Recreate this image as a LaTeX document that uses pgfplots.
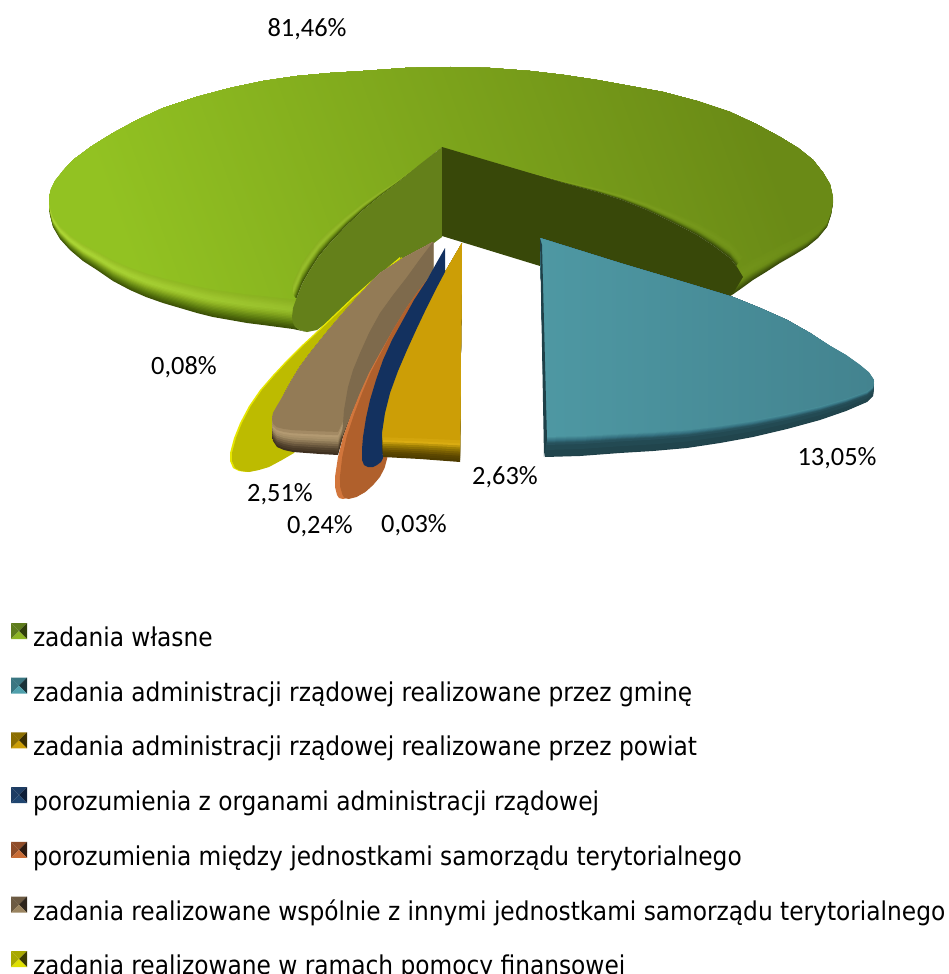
\documentclass[border=0pt]{standalone}
\usepackage{fontspec}
\usepackage{pgfplots}
\usepackage{pgfplotstable}
\pgfplotsset{compat=1.18}
\setmainfont{Carlito}
\newfontfamily\legfont{DejaVu Sans Condensed}

% outlines, read from the picture, in image pixels
\pgfplotstableread{
x y
441 147
419 165
397 183
380 196
363 210
346 226
330 243
319 256
310 270
302 284
297 297
293 308
292 317
293 323
295 327
300 330
307 332
293 329
278 327
263 325
247 323
230 320
213 317
197 313
180 308
163 303
146 297
130 290
113 281
97 270
83 261
70 250
60 239
53 227
50 215
49 203
51 193
55 183
63 171
73 160
92 146
113 133
137 120
163 108
196 97
230 88
263 81
297 76
330 73
363 71
405 68
450 67
490 68
530 71
564 75
597 80
630 86
663 92
697 101
730 112
756 124
780 137
798 148
813 160
823 173
830 187
833 203
831 215
827 227
818 238
807 247
794 255
780 263
766 272
753 280
742 288
732 295
743 277
737 267
730 258
714 246
697 235
672 222
647 210
622 200
597 192
564 183
530 173
}\tabmain
\pgfplotstableread{
x y
442 147
419 165
397 183
380 196
363 210
346 226
330 243
319 256
310 270
302 284
297 297
293 308
292 317
293 323
295 327
300 330
307 332
317 330
442 237
}\tabcutleft
\pgfplotstableread{
x y
442 147
530 173
564 183
597 192
622 200
647 210
672 222
697 235
714 246
730 258
737 267
743 277
732 295
700 312
540 266
442 236
}\tabcutright
\pgfplotstableread{
x y
540 238
620 263
687 283
733 297
760 308
787 320
810 333
830 347
846 358
860 370
869 379
874 388
873 396
867 402
846 411
820 420
787 429
753 437
720 443
687 448
653 451
620 453
580 456
545 457
}\tabteal
\pgfplotstableread{
x y
540 238
544 457
547 440
542 245
}\tabtealedge
\pgfplotstableread{
x y
462 243
460 462
420 459
383 457
382 445
382 433
385 413
390 393
398 371
407 350
417 328
427 307
436 289
445 272
}\tabgold
\pgfplotstableread{
x y
445 248
445 272
436 289
427 307
417 328
407 350
398 371
390 393
385 413
382 433
382 447
383 458
381 462
377 465
373 467
368 467
364 465
362 460
362 449
363 437
366 418
370 400
376 380
383 360
392 340
403 320
414 300
427 280
437 262
}\tabnavy
\pgfplotstableread{
x y
431 275
419 290
407 307
393 330
380 353
369 373
360 393
351 415
343 437
338 457
335 477
335 487
337 495
339 498
343 499
351 497
360 492
368 485
375 477
380 468
383 458
390 420
420 320
}\taborange
\pgfplotstableread{
x y
433 242
433 270
420 290
400 321
380 353
369 373
360 393
351 415
343 437
338 455
320 454
293 452
284 450
277 447
273 441
272 433
273 422
277 410
283 396
290 383
299 368
310 353
326 333
343 313
361 293
380 273
405 257
}\tabbrown
\pgfplotstableread{
x y
433 242
433 270
420 290
400 321
380 353
369 373
360 393
351 415
342 437
344 410
348 387
353 370
360 353
369 333
380 313
393 295
407 277
420 259
}\tabbrowncut
\pgfplotstableread{
x y
400 257
400 272
330 380
292 453
280 460
267 467
257 470
247 472
239 471
233 468
230 461
230 453
234 438
240 423
249 406
260 390
273 375
287 360
300 347
313 335
333 316
353 297
370 282
387 268
}\tabyellow

\definecolor{gLeft}{HTML}{92C222}\definecolor{gMid}{HTML}{7FA51B}\definecolor{gRight}{HTML}{6A8A16}
\definecolor{gLeftCut}{HTML}{64801A}\definecolor{gRightCut}{HTML}{384809}
\definecolor{tealFace}{HTML}{4E98A3}\definecolor{tealRight}{HTML}{43838F}
\definecolor{goldFace}{HTML}{CC9E06}\definecolor{navy}{HTML}{13315F}
\definecolor{orFace}{HTML}{B0602C}\definecolor{orEdge}{HTML}{D2763C}
\definecolor{brFace}{HTML}{937B56}\definecolor{brCut}{HTML}{7E6A4C}
\definecolor{yeFace}{HTML}{BDBB00}\definecolor{yeEdge}{HTML}{E6E600}
% rim shades: main slice
\definecolor{g0}{HTML}{3F5506}\definecolor{g1}{HTML}{4D680A}\definecolor{g2}{HTML}{5E7F0F}\definecolor{g3}{HTML}{739618}
\definecolor{g4}{HTML}{8BAF20}\definecolor{g5}{HTML}{A0C82C}\definecolor{g6}{HTML}{ADD836}\definecolor{g7}{HTML}{ABD534}
\definecolor{g8}{HTML}{A3CC2E}\definecolor{g9}{HTML}{9BC428}
\definecolor{r0}{HTML}{36480A}\definecolor{r1}{HTML}{44590C}\definecolor{r2}{HTML}{536D10}\definecolor{r3}{HTML}{617F14}\definecolor{r4}{HTML}{6A8A16}
% teal, gold, brown rims
\definecolor{ta}{HTML}{1F4048}\definecolor{tb}{HTML}{234A53}\definecolor{tc}{HTML}{2A5964}\definecolor{td}{HTML}{357080}\definecolor{te}{HTML}{418390}
\definecolor{oa}{HTML}{4E3C00}\definecolor{ob}{HTML}{5C4700}\definecolor{oc}{HTML}{7A5F02}\definecolor{od}{HTML}{A08004}\definecolor{oe}{HTML}{DAAC12}
\definecolor{ba}{HTML}{3E3020}\definecolor{bb}{HTML}{54442F}\definecolor{bc}{HTML}{7A6648}\definecolor{bd}{HTML}{A08A64}\definecolor{be}{HTML}{B39A72}

% one step of a rounded rim: the outline, its lower part drawn k px higher
\newcommand\rimstep[6]{\addplot[left color=#5,right color=#6] table[x=x,y expr={\thisrow{y}-(#2)*max(0,\thisrow{y}-#3)/#4}]{#1} --cycle;}
% two steps, the second half-way to the next shade
\newcommand\mainstep[5]{\rimstep{\tabmain}{#1}{170}{160}{#2}{#4}\rimstep{\tabmain}{#1+1.5}{170}{160}{#2!50!#3}{#4!50!#5}}
\newcommand\tealstep[3]{\rimstep{\tabteal}{#1}{340}{117}{#2}{#2}\rimstep{\tabteal}{#1+1}{340}{117}{#2!50!#3}{#2!50!#3}}
\newcommand\brstep[3]{\rimstep{\tabbrown}{#1}{400}{50}{#2}{#2}\rimstep{\tabbrown}{#1+2}{400}{50}{#2!50!#3}{#2!50!#3}}
\newcommand\gostep[3]{\rimstep{\tabgold}{#1}{410}{50}{#2}{#2}\rimstep{\tabgold}{#1+2}{410}{50}{#2!50!#3}{#2!50!#3}}
\newcommand\flatpoly[2]{\addplot[fill=#2] table[x=x,y=y]{#1} --cycle;}
% pyramid legend swatch: left, top, right, bottom
\newcommand\pyr[4]{\addlegendimage{legend image code/.code={
  \fill[#1] (0pt,1pt)--(8pt,9pt)--(0pt,17pt)--cycle;
  \fill[#2] (0pt,17pt)--(8pt,9pt)--(16pt,17pt)--cycle;
  \fill[#3] (16pt,17pt)--(8pt,9pt)--(16pt,1pt)--cycle;
  \fill[#4] (0pt,1pt)--(8pt,9pt)--(16pt,1pt)--cycle;}}}
\definecolor{s1a}{HTML}{5E7C1C}\definecolor{s1b}{HTML}{2F3E0A}\definecolor{s1c}{HTML}{8DB522}
\definecolor{s2a}{HTML}{3A7681}\definecolor{s2b}{HTML}{193238}\definecolor{s2c}{HTML}{4FA0AC}
\definecolor{s3a}{HTML}{8C6E00}\definecolor{s3b}{HTML}{3A2E00}\definecolor{s3c}{HTML}{CC9E06}
\definecolor{s4a}{HTML}{1D3C63}\definecolor{s4b}{HTML}{0E1E38}\definecolor{s4c}{HTML}{1F4570}
\definecolor{s5a}{HTML}{8F4C28}\definecolor{s5b}{HTML}{2E1A10}\definecolor{s5c}{HTML}{C96C35}
\definecolor{s6a}{HTML}{6C5A42}\definecolor{s6b}{HTML}{2E261C}\definecolor{s6c}{HTML}{9A8460}
\definecolor{s7a}{HTML}{A8A800}\definecolor{s7b}{HTML}{3A3A00}\definecolor{s7c}{HTML}{E0E000}

\begin{document}
\begin{tikzpicture}[x=1pt,y=1pt]
\path[use as bounding box] (0,0) rectangle (949,974);
\clip (0,0) rectangle (949,974);
\begin{axis}[
  anchor=south west, at={(0pt,0pt)},
  scale only axis, width=949pt, height=974pt,
  xmin=0, xmax=949, ymin=0, ymax=974, y dir=reverse,
  hide axis, clip=false,
  every axis plot/.append style={forget plot, draw=none, mark=none},
  legend cell align=left,
  legend style={at={(axis cs:11,623)}, anchor=north west, draw=none, fill=none,
    inner sep=0pt, outer sep=0pt, row sep=25.2pt, column sep=6pt,
    font=\legfont\fontsize{25.9}{25.9}\selectfont,
    nodes={inner sep=0pt, outer sep=0pt, text height=19pt, text depth=6pt}},
]
% main slice: rim from dark edge to bright band, then top face
\mainstep{0}{g0}{g1}{r0}{r1}
\mainstep{3}{g1}{g2}{r1}{r2}
\mainstep{6}{g2}{g3}{r2}{r3}
\mainstep{9}{g3}{g4}{r3}{r4}
\mainstep{12}{g4}{g5}{r4}{r4}
\mainstep{15}{g5}{g6}{r4}{r4}
\mainstep{18}{g6}{g7}{r4}{r4}
\mainstep{21}{g7}{g8}{r4}{r4}
\mainstep{24}{g8}{g9}{r4}{r4}
\mainstep{27}{g9}{gLeft}{r4}{r4}
\addplot[left color=gLeft,middle color=gMid,right color=gRight,shading angle=110] table[x=x,y expr={\thisrow{y}-30*max(0,\thisrow{y}-170)/160}]{\tabmain} --cycle;
\flatpoly{\tabcutleft}{gLeftCut}
\flatpoly{\tabcutright}{gRightCut}
% yellow slice
\flatpoly{\tabyellow}{yeEdge}
\addplot[fill=yeFace] table[x expr={\thisrow{x}+2},y=y]{\tabyellow} --cycle;
% brown slice
\brstep{0}{ba}{bb}
\brstep{4}{bb}{bc}
\brstep{8}{bc}{bd}
\brstep{12}{bd}{be}
\brstep{16}{be}{brFace}
\rimstep{\tabbrown}{21}{400}{50}{brFace}{brFace}
\flatpoly{\tabbrowncut}{brCut}
% orange slice
\flatpoly{\taborange}{orEdge}
\addplot[fill=orFace] table[x expr={\thisrow{x}+5*max(0,\thisrow{y}-330)/150},y=y]{\taborange} --cycle;
% gold slice
\gostep{0}{oa}{ob}
\gostep{4}{ob}{oc}
\gostep{8}{oc}{od}
\gostep{12}{od}{oe}
\gostep{16}{oe}{goldFace}
\rimstep{\tabgold}{21}{410}{50}{goldFace}{goldFace}
% navy slice
\flatpoly{\tabnavy}{navy}
% teal slice
\tealstep{0}{ta}{tb}
\tealstep{7}{tb}{tb}
\tealstep{11}{tb}{tc}
\tealstep{14}{tc}{td}
\tealstep{16}{td}{te}
\tealstep{18}{te}{tealFace}
\rimstep{\tabteal}{20}{340}{117}{tealFace}{tealRight}
\addplot[fill=ta] table[x=x,y=y]{\tabtealedge} --cycle;

\node[font=\fontsize{26.4}{26.4}\selectfont] at (axis cs:307,29) {81,46\%};
\node[font=\fontsize{26.4}{26.4}\selectfont] at (axis cs:184,367.5) {0,08\%};
\node[font=\fontsize{26.4}{26.4}\selectfont] at (axis cs:837,458.5) {13,05\%};
\node[font=\fontsize{26.4}{26.4}\selectfont] at (axis cs:505,477.5) {2,63\%};
\node[font=\fontsize{26.4}{26.4}\selectfont] at (axis cs:280,494.5) {2,51\%};
\node[font=\fontsize{26.4}{26.4}\selectfont] at (axis cs:320,526.5) {0,24\%};
\node[font=\fontsize{26.4}{26.4}\selectfont] at (axis cs:414,525.5) {0,03\%};

\pyr{s1a}{s1a}{s1b}{s1c}\addlegendentry{zadania własne}
\pyr{s2a}{s2a}{s2b}{s2c}\addlegendentry{zadania administracji rządowej realizowane przez gminę}
\pyr{s3a}{s3a}{s3b}{s3c}\addlegendentry{zadania administracji rządowej realizowane przez powiat}
\pyr{s4a}{s4a}{s4b}{s4c}\addlegendentry{porozumienia z organami administracji rządowej}
\pyr{s5a}{s5a}{s5b}{s5c}\addlegendentry{porozumienia między jednostkami samorządu terytorialnego}
\pyr{s6a}{s6a}{s6b}{s6c}\addlegendentry{zadania realizowane wspólnie z innymi jednostkami samorządu terytorialnego}
\pyr{s7a}{s7a}{s7b}{s7c}\addlegendentry{zadania realizowane w ramach pomocy finansowej}
\end{axis}
\end{tikzpicture}
\end{document}
